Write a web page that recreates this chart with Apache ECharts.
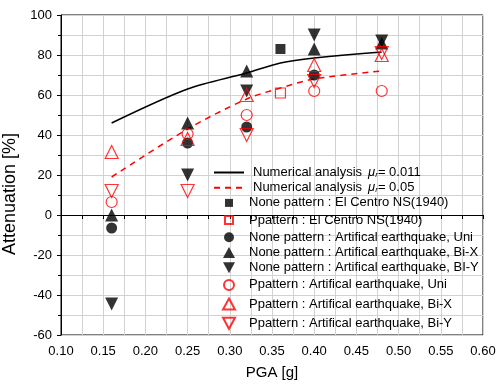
<!DOCTYPE html>
<html>
<head>
<meta charset="utf-8">
<script src="https://cdn.jsdelivr.net/npm/echarts@6/dist/echarts.min.js"></script>
<style>
  html, body { margin: 0; padding: 0; background: #fff; }
  #chart { width: 496px; height: 386px; }
</style>
</head>
<body>
<div id="chart"></div>
<script>
// numerical analysis curves
const lineX = [0.16, 0.25, 0.32, 0.36, 0.40, 0.48];
const numMu011 = [46, 63, 71, 76, 78.5, 81.5];
const numMu005 = [19, 43, 58, 63.5, 68, 72];

// El Centro test points
const elCentroX = [0.36];
const noneElCentro = [83];
const pElCentro = [61];

// artificial earthquake test points
const artX = [0.16, 0.25, 0.32, 0.40, 0.48];
const noneUni = [-6.5, 36, 44, 70, null];
const noneBiX = [0, 46, 72, 83, 86];
const noneBiY = [-44.5, 20, 62, 90, 87];
const pUni = [6.5, 40.5, 50, 62, 62];
const pBiX = [31.5, 38, 60, 75, 80];
const pBiY = [12, 12, 40, 67, 81];

const FONT = "'Liberation Sans', Arial, sans-serif";
const GRID_GRAY = "#d2d2d2";

// legend icons as paths so they keep their aspect inside the 30px wide slot
// (the leading moves only pad the bounding box)
const ICON = {
  square: "path://M0,0M12,12M2,2H10V10H2Z",
  circle: "path://M0,0M12,12M11,6A5,5,0,1,1,1,6A5,5,0,1,1,11,6Z",
  up: "path://M0,0M12,12M6,0.5L12,11.5L0,11.5Z",
  down: "path://M0,0M12,12M0,0.5L12,0.5L6,11.5Z",
};

const pairs = (xs, ys) => xs.map((x, i) => [x, ys[i]]).filter(p => p[1] != null);

function scatter(name, xs, ys, symbol, filled, color, rotate, size) {
  return {
    name: name,
    type: "scatter",
    data: pairs(xs, ys),
    symbol: symbol,
    symbolSize: size,
    symbolRotate: rotate || 0,
    itemStyle: filled
      ? { color: color }
      : { color: "none", borderColor: color, borderWidth: 1.2 },
    z: filled ? 3 : 4,
  };
}

const lineNames = ["Numerical analysis μr= 0.011", "Numerical analysis μr= 0.05"];

const chart = echarts.init(document.getElementById("chart"), null, { renderer: "canvas" });

const option = {
  animation: false,
  backgroundColor: "#fff",
  textStyle: { fontFamily: FONT },
  grid: {
    left: 61, right: 13, top: 15, bottom: 51,
    outerBoundsMode: "none",
    containLabel: false,
    show: true, borderColor: "#000", borderWidth: 1,
  },
  legend: {
    orient: "vertical",
    left: 213,
    top: 166,
    itemWidth: 30,
    itemHeight: 12,
    itemGap: 2.2,
    padding: 0,
    data: [
      { name: lineNames[0], itemStyle: { color: "transparent", borderWidth: 0 } },
      { name: lineNames[1], itemStyle: { color: "transparent", borderWidth: 0 } },
      { name: "None pattern : El Centro NS(1940)", icon: ICON.square },
      { name: "Ppattern : El Centro NS(1940)", icon: ICON.square },
      { name: "None pattern : Artifical earthquake, Uni", icon: ICON.circle },
      { name: "None pattern : Artifical earthquake, Bi-X", icon: ICON.up },
      { name: "None pattern : Artifical earthquake, BI-Y", icon: ICON.down },
      { name: "Ppattern : Artifical earthquake, Uni", icon: ICON.circle },
      { name: "Ppattern : Artifical earthquake, Bi-X", icon: ICON.up },
      { name: "Ppattern : Artifical earthquake, Bi-Y", icon: ICON.down },
    ],
    textStyle: {
      fontFamily: FONT, fontSize: 13, color: "#000", lineHeight: 12,
      rich: {
        a: { fontFamily: FONT, fontSize: 13, color: "#000", lineHeight: 12, padding: [0, 0, 0, 4] },
        mu: { fontFamily: FONT, fontSize: 13, fontStyle: "italic", color: "#000", lineHeight: 12, padding: [0, 0, 0, 6] },
        sub: { fontFamily: FONT, fontSize: 8, fontStyle: "italic", color: "#000", lineHeight: 12, verticalAlign: "bottom", padding: [4, 0, 0, 0] },
        b: { fontFamily: FONT, fontSize: 13, color: "#000", lineHeight: 12 },
      },
    },
    formatter: function (name) {
      if (name.indexOf("Numerical analysis") === 0) {
        const val = name.split("= ")[1];
        return "{a|Numerical analysis}{mu|μ}{sub|r}{b|= " + val + "}";
      }
      return name;
    },
  },
  xAxis: {
    type: "value",
    min: 0.1,
    max: 0.6,
    interval: 0.05,
    name: "PGA [g]",
    nameLocation: "middle",
    nameGap: 30,
    nameTextStyle: { fontFamily: FONT, fontSize: 15, color: "#000" },
    axisLine: { show: true, lineStyle: { color: "#000", width: 1 } },
    axisTick: { show: true, inside: false, length: 4, lineStyle: { color: "#000" } },
    minorTick: { show: true, splitNumber: 2, length: 4, lineStyle: { color: "#000" } },
    splitLine: { show: true, lineStyle: { color: GRID_GRAY, width: 1 } },
    minorSplitLine: { show: true, lineStyle: { color: GRID_GRAY, width: 1 } },
    axisLabel: {
      margin: 10, fontFamily: FONT, fontSize: 13, color: "#000",
      formatter: v => v.toFixed(2),
    },
  },
  yAxis: {
    type: "value",
    min: -60,
    max: 100,
    interval: 20,
    name: "Attenuation [%]",
    nameLocation: "middle",
    nameGap: 35,
    nameTextStyle: { fontFamily: FONT, fontSize: 18, color: "#000", padding: [0, 38, 0, 0] },
    axisLine: { show: true, lineStyle: { color: "#000", width: 1 } },
    axisTick: { show: true, inside: false, length: 4, lineStyle: { color: "#000" } },
    minorTick: { show: true, splitNumber: 2, length: 3, lineStyle: { color: "#000" } },
    splitLine: { show: true, lineStyle: { color: GRID_GRAY, width: 1 } },
    minorSplitLine: { show: true, lineStyle: { color: GRID_GRAY, width: 1 } },
    axisLabel: { margin: 9, fontFamily: FONT, fontSize: 13, color: "#000" },
  },
  series: [
    {
      name: lineNames[0],
      type: "line",
      data: pairs(lineX, numMu011),
      smooth: 0.3,
      symbol: "none",
      lineStyle: { color: "#000", width: 1.5, type: "solid" },
      itemStyle: { color: "#000" },
      z: 2,
    },
    {
      name: lineNames[1],
      type: "line",
      data: pairs(lineX, numMu005),
      smooth: 0.3,
      symbol: "none",
      lineStyle: { color: "#ff0000", width: 1.5, type: [6, 5] },
      itemStyle: { color: "#ff0000" },
      z: 2,
    },
    scatter("None pattern : El Centro NS(1940)", elCentroX, noneElCentro, "rect", true, "#000", 0, 10),
    scatter("Ppattern : El Centro NS(1940)", elCentroX, pElCentro, "rect", false, "#ff0000", 0, 10),
    scatter("None pattern : Artifical earthquake, Uni", artX, noneUni, "circle", true, "#000", 0, 11),
    scatter("None pattern : Artifical earthquake, Bi-X", artX, noneBiX, "triangle", true, "#000", 0, 13),
    scatter("None pattern : Artifical earthquake, BI-Y", artX, noneBiY, "triangle", true, "#000", 180, 13),
    scatter("Ppattern : Artifical earthquake, Uni", artX, pUni, "circle", false, "#ff0000", 0, 11),
    scatter("Ppattern : Artifical earthquake, Bi-X", artX, pBiX, "triangle", false, "#ff0000", 0, 13),
    scatter("Ppattern : Artifical earthquake, Bi-Y", artX, pBiY, "triangle", false, "#ff0000", 180, 13),
  ],
};

chart.setOption(option);
</script>
</body>
</html>
